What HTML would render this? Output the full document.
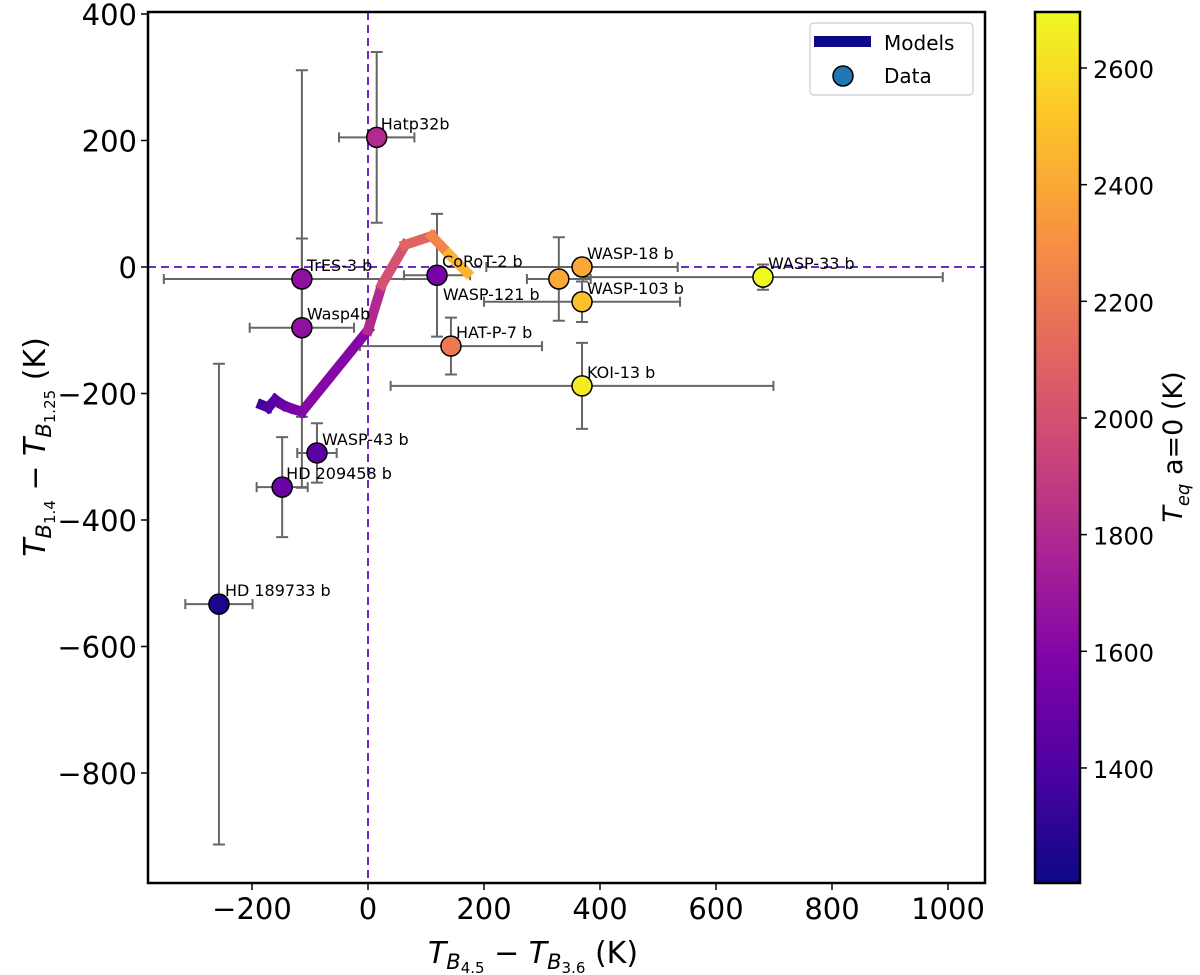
<!DOCTYPE html>
<html><head><meta charset="utf-8"><style>
body{margin:0;background:#fff;}
svg text{font-family:"DejaVu Sans","Liberation Sans",sans-serif;}
</style></head><body>
<div style="position:relative;width:1200px;height:975px">
<svg id="c" width="1200" height="975" xmlns="http://www.w3.org/2000/svg" style="position:absolute;left:0;top:0">
<defs>
<linearGradient id="plasma" x1="0" y1="1" x2="0" y2="0">
<stop offset="0" stop-color="#0d0887"/><stop offset="0.125" stop-color="#4c02a1"/>
<stop offset="0.25" stop-color="#7e03a8"/><stop offset="0.375" stop-color="#a92395"/>
<stop offset="0.5" stop-color="#cc4778"/><stop offset="0.625" stop-color="#e56b5d"/>
<stop offset="0.75" stop-color="#f89540"/><stop offset="0.875" stop-color="#fdc328"/>
<stop offset="1" stop-color="#f0f921"/></linearGradient>
</defs>
<g id="plot"></g>
<g>
<rect x="810" y="23" width="163" height="72" rx="4" fill="#fff" fill-opacity="0.85" stroke="#ccc" stroke-width="1.2"/>
<rect x="814" y="36" width="57" height="11" fill="#0d0887"/>
<text x="884" y="50" font-size="20">Models</text>
<circle cx="843" cy="76" r="10" fill="#1f77b4" stroke="#000" stroke-width="1.5"/>
<text x="884" y="83" font-size="20">Data</text>
</g>
<text x="533" y="963" font-size="30" text-anchor="middle"><tspan font-style="italic">T</tspan><tspan font-style="italic" font-size="21" dy="6">B</tspan><tspan font-size="15" dy="4">4.5</tspan><tspan dy="-10"> − </tspan><tspan font-style="italic">T</tspan><tspan font-style="italic" font-size="21" dy="6">B</tspan><tspan font-size="15" dy="4">3.6</tspan><tspan dy="-10"> (K)</tspan></text>
<text transform="translate(45,447) rotate(-90)" font-size="30" text-anchor="middle"><tspan font-style="italic">T</tspan><tspan font-style="italic" font-size="21" dy="6">B</tspan><tspan font-size="15" dy="4">1.4</tspan><tspan dy="-10"> − </tspan><tspan font-style="italic">T</tspan><tspan font-style="italic" font-size="21" dy="6">B</tspan><tspan font-size="15" dy="4">1.25</tspan><tspan dy="-10"> (K)</tspan></text>
<text transform="translate(1182,447) rotate(-90)" font-size="27" text-anchor="middle"><tspan font-style="italic">T</tspan><tspan font-style="italic" font-size="18" dy="7">eq</tspan><tspan dy="-7"> a=0 (K)</tspan></text>
</svg>
</div>
<script>
const names=["Hatp32b","TrES-3 b","Wasp4b","HD 209458 b","WASP-43 b","HD 189733 b","CoRoT-2 b","HAT-P-7 b","WASP-18 b","WASP-121 b","WASP-103 b","WASP-33 b","KOI-13 b"];
const xs=[15,-114,-114,-148,-88,-257,119,143,369,329,369,681,369];
const ys=[205,-19,-96,-348,-294,-533,-13,-125,0,-19,-55,-16,-188];
const xerr=[65,238,90,44,34,58,57,157,165,55,169,310,330];
const yerr=[135,330,141,79,47,380,97,45,13,66,32,20,68];
const teq=[1800,1650,1650,1500,1450,1250,1550,2200,2400,2400,2500,2700,2650];
const modelX=[-183,-172,-160,-147,-134,-114,0,24,64,110,140,171];
const modelY=[-218,-222,-210,-218,-223,-229,-100,-28,35,49,20,-9];
const modelT=[1350,1400,1450,1500,1550,1600,1800,2000,2100,2250,2450,2650];
const xTicks=[-200,0,200,400,600,800,1000];
const yTicks=[400,200,0,-200,-400,-600,-800];
const cTicks=[1400,1600,1800,2000,2200,2400,2600];
const labelDx=[4,5,5,4,5,6,5,5,5,-116,5,5,5];
const labelDy=[-8,-8,-8,-8,-8,-8,-8,-8,-8,21,-8,-8,-8];
const L=148,R=985,T=12,B=883;
const X=v=>368+v*0.58, Y=v=>267-v*0.6325;
const C=v=>68+(2600-v)*0.5833;
const CMAX=2600+(68-T)/0.5833, CMIN=2600-(B-68)/0.5833;
const stops=[[13,8,135],[76,2,161],[126,3,168],[169,35,149],[204,71,120],[229,107,93],[248,149,64],[253,195,40],[240,249,33]];
function plasma(v){let t=Math.max(0,Math.min(1,(v-CMIN)/(CMAX-CMIN)))*8;let i=Math.min(7,Math.floor(t)),f=t-i;
 const a=stops[i],b=stops[i+1];return `rgb(${a.map((c,k)=>Math.round(c+(b[k]-c)*f)).join(',')})`;}
const g=document.getElementById('plot');const NS='http://www.w3.org/2000/svg';
function el(tag,at,p){const e=document.createElementNS(NS,tag);for(const k in at)e.setAttribute(k,at[k]);(p||g).appendChild(e);return e;}
let e=el('line',{x1:X(0),x2:X(0),y1:T,y2:B,stroke:'#5b0fbf','stroke-width':1.8,'stroke-dasharray':'8,5'});


e=el('line',{x1:L,x2:R,y1:Y(0),y2:Y(0),stroke:'#5b0fbf','stroke-width':1.8,'stroke-dasharray':'8,5'});


for(let i=0;i<xs.length;i++){
 const cx=X(xs[i]),cy=Y(ys[i]),x1=X(xs[i]-xerr[i]),x2=X(xs[i]+xerr[i]),y1=Y(ys[i]+yerr[i]),y2=Y(ys[i]-yerr[i]);
 e=el('path',{d:`M${x1},${cy}H${x2}M${x1},${cy-5}v10M${x2},${cy-5}v10M${cx},${y1}V${y2}M${cx-6},${y1}h12M${cx-6},${y2}h12`,stroke:'#666',fill:'none','stroke-width':2});
 
 
}
for(let i=0;i<modelX.length-1;i++){
 e=el('line',{x1:X(modelX[i]),y1:Y(modelY[i]),x2:X(modelX[i+1]),y2:Y(modelY[i+1]),stroke:plasma(modelT[i]),'stroke-width':10,'stroke-linecap':'square'});
 
 
}
for(let i=0;i<xs.length;i++){
 const cx=X(xs[i]),cy=Y(ys[i]);
 e=el('circle',{cx:cx,cy:cy,r:10,fill:plasma(teq[i]),stroke:'#000','stroke-width':1.5});
 
 
 e=el('text',{x:cx+labelDx[i],y:cy+labelDy[i],'font-size':16});
 e.textContent=names[i];
 
 
}
e=el('rect',{x:L,y:T,width:R-L,height:B-T,fill:'none',stroke:'#000','stroke-width':2.5});


xTicks.forEach(v=>{el('line',{x1:X(v),x2:X(v),y1:B,y2:B+7,stroke:'#000','stroke-width':1.5});
 e=el('text',{x:X(v),y:919,'font-size':29,'text-anchor':'middle'});e.textContent=String(v).replace('-','\u2212');
 
 });
yTicks.forEach(v=>{el('line',{x1:L-7,x2:L,y1:Y(v),y2:Y(v),stroke:'#000','stroke-width':1.5});
 e=el('text',{x:L-11,y:Y(v)+11,'font-size':29,'text-anchor':'end'});e.textContent=String(v).replace('-','\u2212');
 
 });
e=el('rect',{x:1035,y:T,width:45,height:B-T,fill:'url(#plasma)',stroke:'#000','stroke-width':2.5});


cTicks.forEach(v=>{el('line',{x1:1080,x2:1087,y1:C(v),y2:C(v),stroke:'#000','stroke-width':1.5});
 e=el('text',{x:1093,y:C(v)+10,'font-size':24});e.textContent=v;
 
 });
</script>
</body></html>
